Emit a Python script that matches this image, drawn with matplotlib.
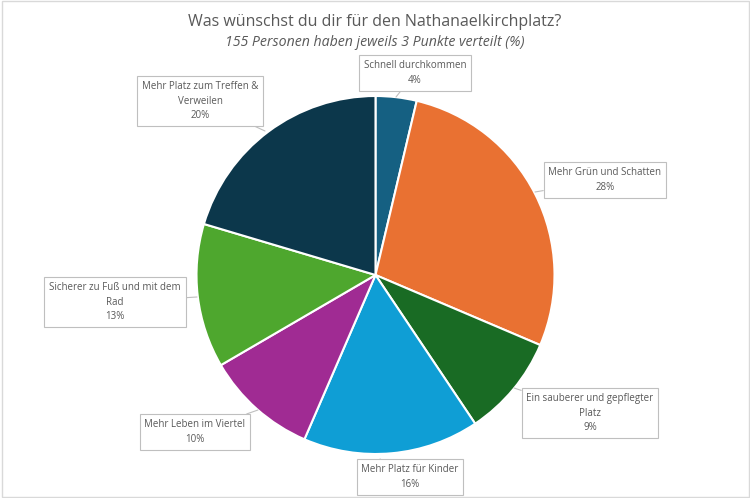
import matplotlib
matplotlib.use('Agg')
import matplotlib.pyplot as plt
from matplotlib.patches import Rectangle

# shares in percent, clockwise from 12 o'clock
categories = [
    'Schnell durchkommen',
    'Mehr Grün und Schatten',
    'Ein sauberer und gepflegter\nPlatz',
    'Mehr Platz für Kinder',
    'Mehr Leben im Viertel',
    'Sicherer zu Fuß und mit dem\nRad',
    'Mehr Platz zum Treffen &\nVerweilen',
]
shares = [3.7, 27.7, 9.2, 15.9, 10.1, 13.0, 20.4]
colors = ['#156082', '#E97132', '#196B24', '#0F9ED5', '#A02B93', '#4EA72E', '#0C374B']

# label box centres and leader tips (pixel coords, y from top)
label_pos = [(415, 73), (605, 180), (590, 413), (410, 477), (195, 432), (115, 302), (200, 101)]
tip_pos = [(396, 97), (535, 192), (514, 388), (380, 459), (258, 410), (197, 297), (265, 131)]

W, H = 750, 498
plt.rcParams['font.family'] = ['Open Sans', 'DejaVu Sans']
txt = '#595959'

fig = plt.figure(figsize=(7.5, 4.98), dpi=100)
ax = fig.add_axes([0, 0, 1, 1])

ax.pie(shares, colors=colors, startangle=90, counterclock=False,
       center=(375.5, H - 275), radius=179, frame=True,
       wedgeprops=dict(edgecolor='white', linewidth=1.5))
ax.set_xlim(0, W)
ax.set_ylim(0, H)
ax.set_aspect('equal')
ax.axis('off')

for cat, val, (lx, ly), (tx, ty) in zip(categories, shares, label_pos, tip_pos):
    ax.annotate(f'{cat}\n{val:.0f}%', xy=(tx, H - ty), xytext=(lx, H - ly),
                ha='center', va='center', fontsize=7, color=txt, linespacing=1.45,
                bbox=dict(boxstyle='square,pad=0.5', fc='white', ec='#bfbfbf', lw=0.8),
                arrowprops=dict(arrowstyle='-', color='#bfbfbf', lw=0.8,
                                shrinkA=0, shrinkB=0))

fig.text(0.5, 1 - 22 / H, 'Was wünschst du dir für den Nathanaelkirchplatz?',
         ha='center', va='center', fontsize=11.5, color=txt)
fig.text(0.5, 1 - 43 / H, '155 Personen haben jeweils 3 Punkte verteilt (%)',
         ha='center', va='center', fontsize=10.2, color=txt, style='italic')

fig.patches.append(Rectangle((1.5 / W, 1.5 / H), 1 - 3 / W, 1 - 3 / H, transform=fig.transFigure,
                             fill=False, ec='#d9d9d9', lw=1))

fig.savefig('out.png', dpi=100)
